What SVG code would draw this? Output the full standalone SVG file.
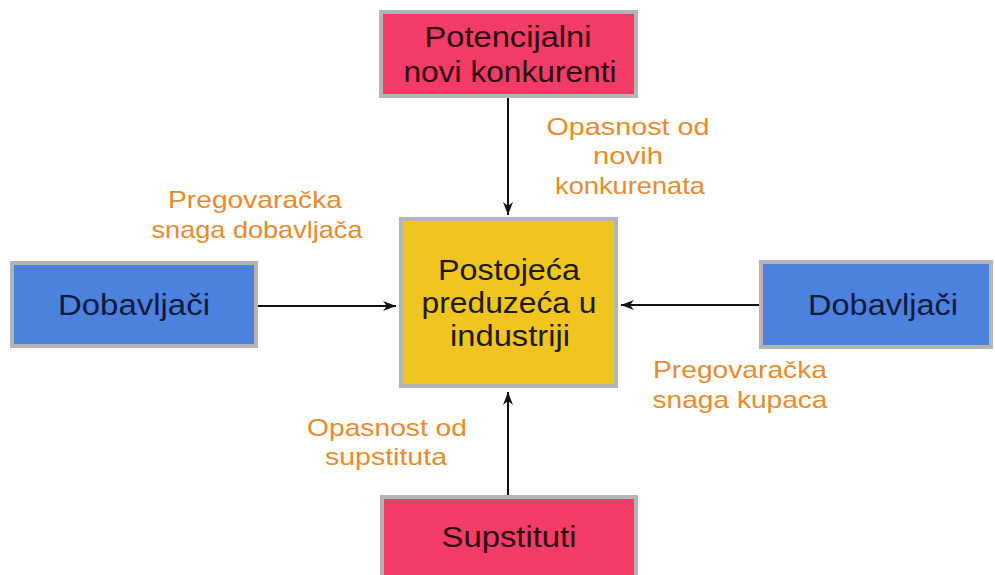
<svg xmlns="http://www.w3.org/2000/svg" width="995" height="575" viewBox="0 0 995 575">
<style>
.box{stroke:#b4b4b4;stroke-width:4}
.pink{fill:#f23c67}
.blue{fill:#4c82dd}
.yel{fill:#f1c51f}
.nt{font-family:"Liberation Sans",Arial,sans-serif;font-size:29px;text-anchor:middle}
.lb{font-family:"Liberation Sans",Arial,sans-serif;font-size:24px;text-anchor:middle;fill:#e98a2c}
.conn{stroke:#111;stroke-width:2;fill:none;marker-end:url(#ah)}
</style>
<defs>
<marker id="ah" markerUnits="userSpaceOnUse" markerWidth="14" markerHeight="10" refX="13" refY="5" orient="auto">
<path d="M0,0 L13,5 L0,10 L4,5 z" fill="#111"/>
</marker>
</defs>
<rect width="995" height="575" fill="#ffffff"/>
<g id="connectors">
<line class="conn" x1="508" y1="98" x2="508" y2="215"/>
<line class="conn" x1="258" y1="306" x2="396" y2="306"/>
<line class="conn" x1="759" y1="305" x2="621" y2="305"/>
<line class="conn" x1="508" y1="495" x2="508" y2="392"/>
</g>
<g id="node-potencijalni">
<rect class="box pink" x="381" y="12" width="255" height="84"/>
<text class="nt" fill="#2e0610" x="508" y="47" textLength="167" lengthAdjust="spacingAndGlyphs">Potencijalni</text>
<text class="nt" fill="#2e0610" x="510" y="82" textLength="213" lengthAdjust="spacingAndGlyphs">novi konkurenti</text>
</g>
<g id="node-postojeca">
<rect class="box yel" x="401" y="219" width="215" height="167"/>
<text class="nt" fill="#1e1a08" x="509" y="280" textLength="142" lengthAdjust="spacingAndGlyphs">Postojeća</text>
<text class="nt" fill="#1e1a08" x="509" y="313" textLength="175" lengthAdjust="spacingAndGlyphs">preduzeća u</text>
<text class="nt" fill="#1e1a08" x="510" y="346" textLength="120" lengthAdjust="spacingAndGlyphs">industriji</text>
</g>
<g id="node-dobavljaci-left">
<rect class="box blue" x="12" y="263" width="244" height="83"/>
<text class="nt" fill="#0c1a3e" x="134" y="315" textLength="152" lengthAdjust="spacingAndGlyphs">Dobavljači</text>
</g>
<g id="node-dobavljaci-right">
<rect class="box blue" x="761" y="262" width="230" height="85"/>
<text class="nt" fill="#0c1a3e" x="883" y="315" textLength="150" lengthAdjust="spacingAndGlyphs">Dobavljači</text>
</g>
<g id="node-supstituti">
<rect class="box pink" x="382" y="497" width="254" height="90"/>
<text class="nt" fill="#2e0610" x="509" y="547" textLength="135" lengthAdjust="spacingAndGlyphs">Supstituti</text>
</g>
<g id="labels">
<text class="lb" x="255" y="208" textLength="174" lengthAdjust="spacingAndGlyphs">Pregovaračka</text>
<text class="lb" x="257" y="238" textLength="211" lengthAdjust="spacingAndGlyphs">snaga dobavljača</text>
<text class="lb" x="628" y="135" textLength="163" lengthAdjust="spacingAndGlyphs">Opasnost od</text>
<text class="lb" x="628" y="164" textLength="70" lengthAdjust="spacingAndGlyphs">novih</text>
<text class="lb" x="630" y="194" textLength="150" lengthAdjust="spacingAndGlyphs">konkurenata</text>
<text class="lb" x="740" y="378" textLength="174" lengthAdjust="spacingAndGlyphs">Pregovaračka</text>
<text class="lb" x="740" y="408" textLength="175" lengthAdjust="spacingAndGlyphs">snaga kupaca</text>
<text class="lb" x="387" y="436" textLength="160" lengthAdjust="spacingAndGlyphs">Opasnost od</text>
<text class="lb" x="386" y="465" textLength="122" lengthAdjust="spacingAndGlyphs">supstituta</text>
</g>
</svg>
